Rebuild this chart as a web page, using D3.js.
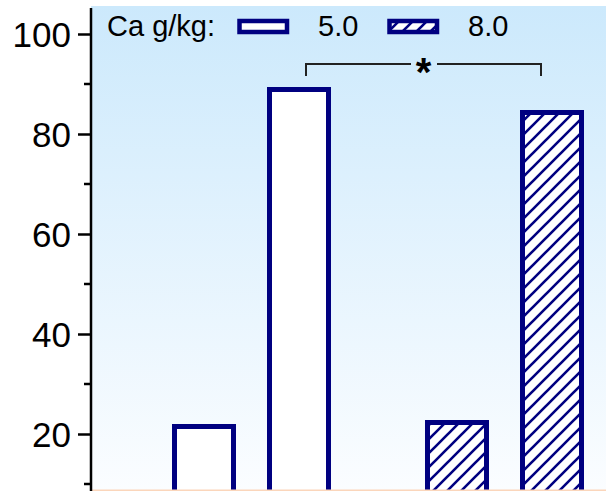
<!DOCTYPE html>
<html>
<head>
<meta charset="utf-8">
<script src="https://cdn.jsdelivr.net/npm/d3@7"></script>
<style>
    body { margin: 0; background: #fff; }
    svg { display: block; font-family: "Liberation Sans", Arial, sans-serif; }
</style>
</head>
<body>
<svg width="606" height="491"></svg>
<script>
// calcium groups (legend) and the two bars inside each group
var groups = ['5.0', '8.0'];
var subgroups = ['1', '2'];
var values50 = [21.5, 88.9];
var values80 = [22.3, 84.3];
var yTicks = [20, 40, 60, 80, 100];
var yMinorTicks = [10, 30, 50, 70, 90];
var legendTitle = 'Ca g/kg:';
var sigLabel = '*';

var navy = '#000080';

var svg = d3.select('svg'),
    width = +svg.attr('width'),
    height = +svg.attr('height');

var axisX = 91,
    plotTop = 6;

var y = d3.scaleLinear().domain([0, 100]).range([534, 34]);

var x0 = d3.scaleBand().domain(groups).range([125, 631]);
var x1 = d3.scaleBand().domain(subgroups).range([0, x0.bandwidth()])
    .paddingInner(0.379).paddingOuter(0.521);

var bars = [];
groups.forEach(function(g, gi) {
    var vals = gi === 0 ? values50 : values80;
    subgroups.forEach(function(s, si) {
        bars.push({ group: g, sub: s, value: vals[si] });
    });
});

var defs = svg.append('defs');

var grad = defs.append('linearGradient')
    .attr('id', 'bg')
    .attr('x1', 0).attr('y1', 0).attr('x2', 0).attr('y2', 1);
grad.append('stop').attr('offset', '0%').attr('stop-color', '#cce9fc');
grad.append('stop').attr('offset', '100%').attr('stop-color', '#fbfdff');

var pat = defs.append('pattern')
    .attr('id', 'hatch')
    .attr('patternUnits', 'userSpaceOnUse')
    .attr('width', 14).attr('height', 14);
pat.append('rect').attr('width', 14).attr('height', 14).attr('fill', '#fff');
pat.append('path')
    .attr('d', 'M0,14L14,0M-4,4L4,-4M10,18L18,10')
    .attr('stroke', navy)
    .attr('stroke-width', 2.6);

// plot background
svg.append('rect')
    .attr('x', axisX)
    .attr('y', plotTop)
    .attr('width', width - axisX)
    .attr('height', height - plotTop)
    .attr('fill', 'url(#bg)');

// bars
svg.append('g')
    .selectAll('rect')
    .data(bars)
    .enter().append('rect')
    .attr('x', function(d) { return x0(d.group) + x1(d.sub); })
    .attr('y', function(d) { return y(d.value); })
    .attr('width', x1.bandwidth())
    .attr('height', function(d) { return y(0) - y(d.value); })
    .attr('fill', function(d) { return d.group === '5.0' ? '#fff' : 'url(#hatch)'; })
    .attr('stroke', navy)
    .attr('stroke-width', 5);

// bottom line
svg.append('line')
    .attr('x1', axisX).attr('x2', width)
    .attr('y1', height - 0.5).attr('y2', height - 0.5)
    .attr('stroke', '#fbd6bb')
    .attr('stroke-width', 2);

// y axis
var yAxis = svg.append('g')
    .attr('transform', 'translate(' + axisX + ',0)')
    .call(d3.axisLeft(y).tickValues(yTicks).tickSize(13).tickSizeOuter(0).tickPadding(7));
yAxis.select('.domain').remove();
yAxis.selectAll('.tick line').attr('stroke', '#000').attr('stroke-width', 2.5);
yAxis.selectAll('.tick text')
    .attr('fill', '#000')
    .attr('font-size', 35)
    .attr('font-family', '"Liberation Sans", Arial, sans-serif')
    .attr('dy', '0.36em');

yAxis.selectAll('.minor')
    .data(yMinorTicks)
    .enter().append('line')
    .attr('class', 'minor')
    .attr('x1', -7).attr('x2', 0)
    .attr('y1', function(d) { return y(d); })
    .attr('y2', function(d) { return y(d); })
    .attr('stroke', '#000')
    .attr('stroke-width', 2.5);

yAxis.append('line')
    .attr('x1', 0).attr('x2', 0)
    .attr('y1', y(105.2)).attr('y2', height)
    .attr('stroke', '#000')
    .attr('stroke-width', 2.5);

// legend
var legend = svg.append('g').attr('font-size', 29).attr('fill', '#000');
legend.append('text').attr('x', 107).attr('y', 36).text(legendTitle);

var legendX = [239.5, 389.5];
groups.forEach(function(g, i) {
    legend.append('rect')
        .attr('x', legendX[i]).attr('y', 21)
        .attr('width', 47.5).attr('height', 11)
        .attr('fill', i === 0 ? '#fff' : 'url(#hatch)')
        .attr('stroke', navy)
        .attr('stroke-width', 4.5);
    legend.append('text')
        .attr('x', legendX[i] + 78.5).attr('y', 36)
        .text(g);
});

// significance bracket between the second bars of each group
var bx1 = x0(groups[0]) + x1(subgroups[1]) + x1.bandwidth() / 2 + 7,
    bx2 = x0(groups[1]) + x1(subgroups[1]) + x1.bandwidth() / 2 - 11,
    by = y(94),
    bDrop = y(91.6),
    mid = (bx1 + bx2) / 2 + 0.5;

var bracket = svg.append('g')
    .attr('fill', 'none')
    .attr('stroke', '#222')
    .attr('stroke-width', 2);
bracket.append('path')
    .attr('d', 'M' + bx1 + ',' + bDrop + 'V' + by + 'H' + (mid - 13));
bracket.append('path')
    .attr('d', 'M' + (mid + 13) + ',' + by + 'H' + bx2 + 'V' + bDrop);

svg.append('text')
    .attr('x', mid - 0.5)
    .attr('y', by + 22)
    .attr('text-anchor', 'middle')
    .attr('font-size', 40)
    .attr('font-weight', 'bold')
    .attr('fill', '#000')
    .text(sigLabel);
</script>
</body>
</html>
